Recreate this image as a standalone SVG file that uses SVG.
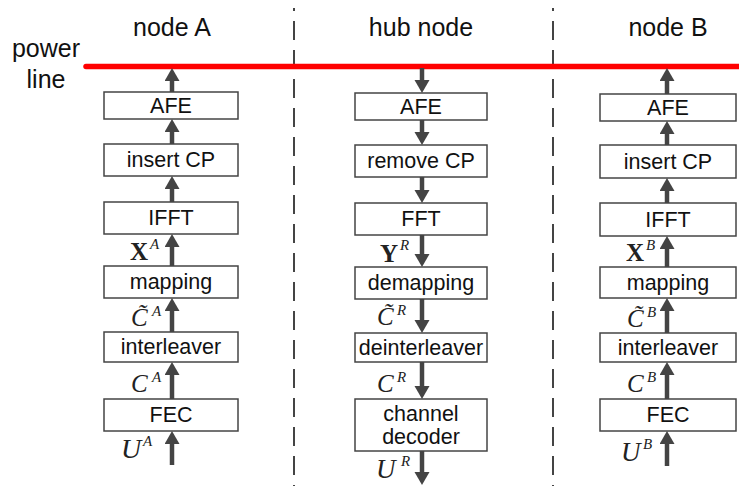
<svg xmlns="http://www.w3.org/2000/svg" width="739" height="486" viewBox="0 0 739 486">
<style>
.box{fill:#fff;stroke:#444;stroke-width:1.5}
.lbl{font-family:"Liberation Sans",Arial,sans-serif;font-size:21.5px;fill:#111;text-anchor:middle}
.head{font-family:"Liberation Sans",Arial,sans-serif;font-size:25px;fill:#111;text-anchor:middle}
.arr{stroke:#444;stroke-width:4.5;fill:none;marker-end:url(#ah)}
.sep{stroke:#444;stroke-width:2;stroke-dasharray:19 10;stroke-dashoffset:16}
.m{font-family:"Liberation Serif","Times New Roman",serif;font-size:25px;fill:#222}
.mb{font-weight:bold;font-style:normal}
.mi{font-style:italic}
.mu{font-size:27px}
.sup{font-family:"Liberation Serif","Times New Roman",serif;font-size:15px;font-style:italic;fill:#222}
</style>
<defs>
<marker id="ah" markerUnits="userSpaceOnUse" markerWidth="14" markerHeight="16" refX="5" refY="7.5" orient="auto">
<path d="M0,0 L13,7.5 L0,15 z" fill="#444"/>
</marker>
</defs>
<rect width="739" height="486" fill="#fff"/>
<g id="separators">
<line class="sep" x1="294" y1="8" x2="294" y2="486"/>
<line class="sep" x1="553" y1="8" x2="553" y2="486"/>
</g>
<g id="power-line">
<line x1="86" y1="66.5" x2="739" y2="66.5" stroke="#f00" stroke-width="5.5" stroke-linecap="round"/>
<text class="head" x="46" y="57">power</text>
<text class="head" x="46" y="88">line</text>
</g>
<g id="headings">
<text class="head" x="172" y="36">node A</text>
<text class="head" x="421" y="36">hub node</text>
<text class="head" x="668" y="36">node B</text>
</g>
<g id="node-A">
<g id="A-afe"><rect class="box" x="104" y="92" width="134" height="27"/><text class="lbl" x="171" y="113">AFE</text></g>
<g id="A-cp"><rect class="box" x="104" y="144" width="134" height="32"/><text class="lbl" x="171" y="167">insert CP</text></g>
<g id="A-ifft"><rect class="box" x="104" y="202" width="134" height="32"/><text class="lbl" x="171" y="225">IFFT</text></g>
<g id="A-map"><rect class="box" x="104" y="266" width="134" height="32"/><text class="lbl" x="171" y="289">mapping</text></g>
<g id="A-int"><rect class="box" x="104" y="332" width="134" height="30"/><text class="lbl" x="171" y="354">interleaver</text></g>
<g id="A-fec"><rect class="box" x="104" y="399" width="134" height="32"/><text class="lbl" x="171" y="422">FEC</text></g>
</g>
<g id="hub">
<g id="H-afe"><rect class="box" x="355" y="93" width="132" height="27"/><text class="lbl" x="421" y="114">AFE</text></g>
<g id="H-cp"><rect class="box" x="355" y="145" width="132" height="32"/><text class="lbl" x="421" y="168">remove CP</text></g>
<g id="H-fft"><rect class="box" x="355" y="203" width="132" height="32"/><text class="lbl" x="421" y="226">FFT</text></g>
<g id="H-demap"><rect class="box" x="355" y="267" width="132" height="32"/><text class="lbl" x="421" y="290">demapping</text></g>
<g id="H-deint"><rect class="box" x="355" y="333" width="132" height="29"/><text class="lbl" x="421" y="355">deinterleaver</text></g>
<g id="H-dec"><rect class="box" x="355" y="399" width="132" height="52"/><text class="lbl" x="421" y="421">channel</text><text class="lbl" x="421" y="444">decoder</text></g>
</g>
<g id="node-B">
<g id="B-afe"><rect class="box" x="600" y="94" width="136" height="27"/><text class="lbl" x="668" y="115">AFE</text></g>
<g id="B-cp"><rect class="box" x="600" y="145" width="136" height="33"/><text class="lbl" x="668" y="169">insert CP</text></g>
<g id="B-ifft"><rect class="box" x="600" y="203" width="136" height="33"/><text class="lbl" x="668" y="227">IFFT</text></g>
<g id="B-map"><rect class="box" x="600" y="267" width="136" height="31"/><text class="lbl" x="668" y="290">mapping</text></g>
<g id="B-int"><rect class="box" x="600" y="333" width="136" height="29"/><text class="lbl" x="668" y="355">interleaver</text></g>
<g id="B-fec"><rect class="box" x="600" y="399" width="136" height="32"/><text class="lbl" x="668" y="422">FEC</text></g>
</g>
<g id="connectors">
<line class="arr" x1="172" y1="465" x2="172" y2="439"/>
<line class="arr" x1="172" y1="399" x2="172" y2="370"/>
<line class="arr" x1="172" y1="332" x2="172" y2="306"/>
<line class="arr" x1="172" y1="266" x2="172" y2="242"/>
<line class="arr" x1="172" y1="202" x2="172" y2="184"/>
<line class="arr" x1="172" y1="144" x2="172" y2="127"/>
<line class="arr" x1="172" y1="92" x2="172" y2="76"/>
<line class="arr" x1="422" y1="68" x2="422" y2="85"/>
<line class="arr" x1="422" y1="120" x2="422" y2="137"/>
<line class="arr" x1="422" y1="177" x2="422" y2="195"/>
<line class="arr" x1="422" y1="235" x2="422" y2="259"/>
<line class="arr" x1="422" y1="299" x2="422" y2="325"/>
<line class="arr" x1="422" y1="362" x2="422" y2="391"/>
<line class="arr" x1="422" y1="451" x2="422" y2="477"/>
<line class="arr" x1="667" y1="466" x2="667" y2="439"/>
<line class="arr" x1="667" y1="399" x2="667" y2="370"/>
<line class="arr" x1="667" y1="333" x2="667" y2="306"/>
<line class="arr" x1="667" y1="267" x2="667" y2="244"/>
<line class="arr" x1="667" y1="203" x2="667" y2="186"/>
<line class="arr" x1="667" y1="145" x2="667" y2="129"/>
<line class="arr" x1="667" y1="94" x2="667" y2="76"/>
</g>
<g id="labels">
<text class="m mb" x="130" y="260">X</text><text class="sup" x="150" y="249">A</text>
<text class="m mi" x="131" y="326">C̃</text><text class="sup" x="152" y="316">A</text>
<text class="m mi" x="131" y="392">C</text><text class="sup" x="152" y="382">A</text>
<text class="m mi mu" x="121" y="458" style="font-size:28px">U</text><text class="sup" x="143" y="446">A</text>
<text class="m mb" x="380" y="262">Y</text><text class="sup" x="400" y="250">R</text>
<text class="m mi" x="377" y="325">C̃</text><text class="sup" x="397" y="315">R</text>
<text class="m mi" x="377" y="392">C</text><text class="sup" x="397" y="382">R</text>
<text class="m mi mu" x="376" y="478">U</text><text class="sup" x="401" y="466">R</text>
<text class="m mb" x="626" y="261">X</text><text class="sup" x="646" y="250">B</text>
<text class="m mi" x="627" y="327">C̃</text><text class="sup" x="647" y="317">B</text>
<text class="m mi" x="627" y="392">C</text><text class="sup" x="647" y="382">B</text>
<text class="m mi mu" x="621" y="461">U</text><text class="sup" x="643" y="449">B</text>
</g>
</svg>
